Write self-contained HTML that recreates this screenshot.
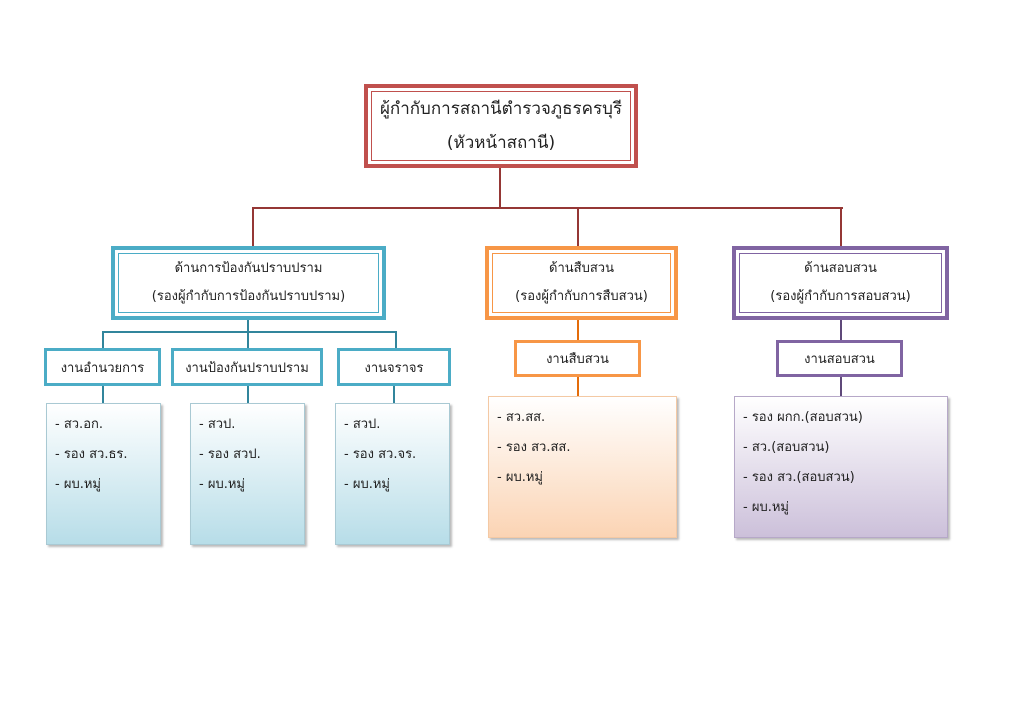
<!DOCTYPE html>
<html><head><meta charset="utf-8"><style>
body{margin:0;width:1024px;height:724px;background:#fff;position:relative;font-family:"DejaVu Sans","Liberation Sans",sans-serif;overflow:hidden}
.b{position:absolute;box-sizing:border-box;display:flex;flex-direction:column;justify-content:center;align-items:center;background:#fff;color:#222;text-align:center}
.b .in{position:absolute;left:3px;top:3px;right:3px;bottom:3px}
.l{position:absolute}
.d{position:absolute;box-sizing:border-box;border:1px solid #a9c9d3;box-shadow:2px 2px 2px #bbb;font-size:13px;color:#222;padding:6px 0 0 8px;line-height:30px}
</style></head><body>
<div class="b" style="left:364px;top:84px;width:274px;height:84px;border:4px solid #c0504d;font-size:17px;line-height:34px"><div class="in" style="border:1px solid #c0504d"></div>ผู้กำกับการสถานีตำรวจภูธรครบุรี<br>(หัวหน้าสถานี)</div>
<div class="l" style="left:499px;top:168px;width:2px;height:40px;background:#953735"></div>
<div class="l" style="left:253px;top:207px;width:590px;height:2px;background:#953735"></div>
<div class="l" style="left:252px;top:207px;width:2px;height:40px;background:#953735"></div>
<div class="l" style="left:577px;top:207px;width:2px;height:40px;background:#953735"></div>
<div class="l" style="left:840px;top:207px;width:2px;height:40px;background:#953735"></div>

<div class="b" style="left:111px;top:246px;width:275px;height:74px;border:4px solid #4bacc6;font-size:13px;line-height:28px"><div class="in" style="border:1px solid #4bacc6"></div>ด้านการป้องกันปราบปราม<br>(รองผู้กำกับการป้องกันปราบปราม)</div>
<div class="b" style="left:485px;top:246px;width:193px;height:74px;border:4px solid #f79646;font-size:13px;line-height:28px"><div class="in" style="border:1px solid #f79646"></div>ด้านสืบสวน<br>(รองผู้กำกับการสืบสวน)</div>
<div class="b" style="left:732px;top:246px;width:217px;height:74px;border:4px solid #8064a2;font-size:13px;line-height:28px"><div class="in" style="border:1px solid #8064a2"></div>ด้านสอบสวน<br>(รองผู้กำกับการสอบสวน)</div>

<div class="l" style="left:247px;top:320px;width:2px;height:13px;background:#31859c"></div>
<div class="l" style="left:103px;top:331px;width:294px;height:2px;background:#31859c"></div>
<div class="l" style="left:102px;top:331px;width:2px;height:18px;background:#31859c"></div>
<div class="l" style="left:247px;top:331px;width:2px;height:18px;background:#31859c"></div>
<div class="l" style="left:395px;top:331px;width:2px;height:18px;background:#31859c"></div>

<div class="b" style="left:44px;top:348px;width:117px;height:38px;border:3px solid #4bacc6;font-size:13px">งานอำนวยการ</div>
<div class="b" style="left:171px;top:348px;width:152px;height:38px;border:3px solid #4bacc6;font-size:13px">งานป้องกันปราบปราม</div>
<div class="b" style="left:337px;top:348px;width:114px;height:38px;border:3px solid #4bacc6;font-size:13px">งานจราจร</div>
<div class="l" style="left:102px;top:386px;width:2px;height:17px;background:#31859c"></div>
<div class="l" style="left:247px;top:386px;width:2px;height:17px;background:#31859c"></div>
<div class="l" style="left:393px;top:386px;width:2px;height:17px;background:#31859c"></div>
<div class="d" style="left:46px;top:403px;width:115px;height:142px;background:linear-gradient(#fff,#b7dde8)">- สว.อก.<br>- รอง สว.ธร.<br>- ผบ.หมู่</div>
<div class="d" style="left:190px;top:403px;width:115px;height:142px;background:linear-gradient(#fff,#b7dde8)">- สวป.<br>- รอง สวป.<br>- ผบ.หมู่</div>
<div class="d" style="left:335px;top:403px;width:115px;height:142px;background:linear-gradient(#fff,#b7dde8)">- สวป.<br>- รอง สว.จร.<br>- ผบ.หมู่</div>

<div class="l" style="left:577px;top:320px;width:2px;height:20px;background:#e46c0a"></div>
<div class="b" style="left:514px;top:340px;width:127px;height:37px;border:3px solid #f79646;font-size:13px">งานสืบสวน</div>
<div class="l" style="left:577px;top:377px;width:2px;height:19px;background:#e46c0a"></div>
<div class="d" style="left:488px;top:396px;width:189px;height:142px;border-color:#f4c9a4;background:linear-gradient(#fff,#fbd4b4)">- สว.สส.<br>- รอง สว.สส.<br>- ผบ.หมู่</div>

<div class="l" style="left:840px;top:320px;width:2px;height:20px;background:#5f497a"></div>
<div class="b" style="left:776px;top:340px;width:127px;height:37px;border:3px solid #8064a2;font-size:13px">งานสอบสวน</div>
<div class="l" style="left:840px;top:377px;width:2px;height:19px;background:#5f497a"></div>
<div class="d" style="left:734px;top:396px;width:214px;height:142px;border-color:#b6a8c8;background:linear-gradient(#fff,#ccc0da)">- รอง ผกก.(สอบสวน)<br>- สว.(สอบสวน)<br>- รอง สว.(สอบสวน)<br>- ผบ.หมู่</div>
</body></html>
